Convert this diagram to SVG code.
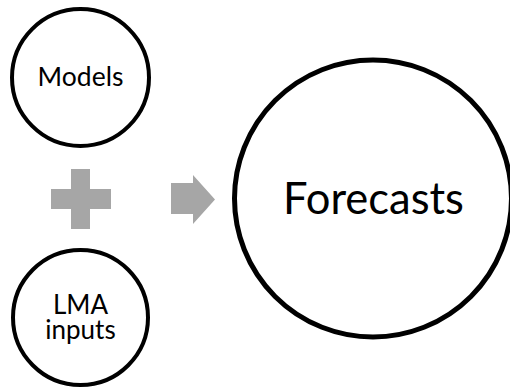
<svg xmlns="http://www.w3.org/2000/svg" width="510" height="392" viewBox="0 0 510 392">
<style>
.node{fill:#fff;stroke:#000}
.lbl{font-family:Lato,"Open Sans","Liberation Sans",sans-serif;fill:#000;text-anchor:middle}
.sym{fill:#a6a6a6}
</style>
<rect width="510" height="392" fill="#fff"/>
<g id="models">
<circle class="node" cx="80.5" cy="77.5" r="68.5" stroke-width="4"/>
<text class="lbl" x="80.5" y="85.5" font-size="26.5">Models</text>
</g>
<g id="lma-inputs">
<circle class="node" cx="80.5" cy="317.5" r="67.5" stroke-width="4"/>
<text class="lbl" font-size="26"><tspan x="80.5" y="313.5">LMA</tspan><tspan x="80.5" y="338.5">inputs</tspan></text>
</g>
<g id="forecasts">
<circle class="node" cx="373" cy="198.5" r="138.5" stroke-width="5"/>
<text class="lbl" x="373.5" y="213.5" font-size="43.5">Forecasts</text>
</g>
<g id="connectors">
<path class="sym" d="M71 169H90V189H111V209H90V229H71V209H51V189H71Z"/>
<path class="sym" d="M171 183H193V175L215 199.5L193 224V214H171Z"/>
</g>
</svg>
